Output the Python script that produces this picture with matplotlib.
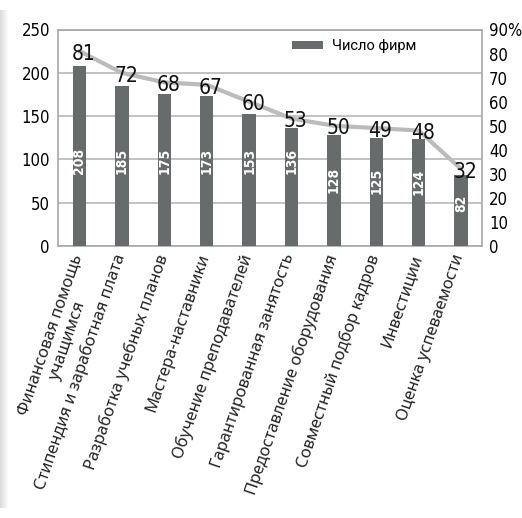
import matplotlib
matplotlib.use("Agg")
import matplotlib.pyplot as plt
from matplotlib.patches import Rectangle
from matplotlib.transforms import ScaledTranslation
import numpy as np

categories = [
    "Финансовая помощь\nучащимся",
    "Стипендия и заработная плата",
    "Разработка учебных планов",
    "Мастера-наставники",
    "Обучение преподавателей",
    "Гарантированная занятость",
    "Предоставление оборудования",
    "Совместный подбор кадров",
    "Инвестиции",
    "Оценка успеваемости",
]
firms = [208, 185, 175, 173, 153, 136, 128, 125, 124, 82]
percent = [81, 72, 68, 67, 60, 53, 50, 49, 48, 32]
left_ticks = [0, 50, 100, 150, 200, 250]
right_ticks = [0, 10, 20, 30, 40, 50, 60, 70, 80, 90]
right_labels = ["0", "10", "20", "30", "40", "50", "60", "70", "80", "90%"]
legend_label = "Число фирм"

BAR = "#686b6b"
LINE = "#bbbbbb"
FRAME = "#a8a8a8"
GRID = "#b8b8b8"
NUM_FONT = ["DejaVu Sans"]
LBL_FONT = ["Noto Sans", "DejaVu Sans"]

W, H = 522, 518
fig = plt.figure(figsize=(W / 100, H / 100), dpi=100)

# left page shadow strip
for i in range(8):
    g = 0.86 + i * 0.017
    fig.patches.append(Rectangle((i / W, 10 / H), 1 / W, (H - 20) / H,
                                 transform=fig.transFigure, color=(g, g, g),
                                 lw=0, zorder=0))

ax = fig.add_axes([58.3 / W, (H - 246) / H, 424 / W, 216.5 / H])
x = np.arange(len(categories))
bars = ax.bar(x, firms, width=0.315, color=BAR, zorder=3, label=legend_label)
ax.set_xlim(-0.5, len(categories) - 0.5)
ax.set_ylim(0, 250)
ax.set_yticks(left_ticks)
ax.set_yticklabels([str(t) for t in left_ticks], fontsize=12,
                   fontfamily=NUM_FONT, fontstretch="condensed")
ax.tick_params(axis="y", length=0, pad=6)
ax.grid(axis="y", color=GRID, lw=1.2, zorder=1)
ax.set_axisbelow(True)
for s in ax.spines.values():
    s.set_color(FRAME)
    s.set_linewidth(1.2)

# category labels (rotated, anchored at their upper-right corner)
ax.set_xticks(x)
ax.set_xticklabels([])
ax.tick_params(axis="x", length=0)
offset = ScaledTranslation(-9 / 100, -6 / 100, fig.dpi_scale_trans)
for xi, name in zip(x, categories):
    ax.text(xi, 0, name, rotation=71, ha="right", va="top",
            rotation_mode="anchor", fontsize=11.9, fontfamily=LBL_FONT,
            multialignment="center", color="#222222",
            transform=ax.get_xaxis_transform() + offset)

# bar value labels
for xi, v in zip(x, firms):
    yl = 98 if v > 130 else v * 0.6
    ax.text(xi, yl, str(v), rotation=90, ha="center", va="center",
            color="white", fontsize=10, fontweight="bold",
            fontfamily=NUM_FONT, fontstretch="condensed", zorder=5)

ax2 = ax.twinx()
ax2.set_ylim(0, 90)
ax2.plot(x, percent, color=LINE, lw=3, zorder=4, solid_capstyle="round")
ax2.set_yticks(right_ticks)
ax2.set_yticklabels(right_labels, fontsize=12, fontfamily=NUM_FONT,
                    fontstretch="condensed")
ax2.tick_params(axis="y", length=0, pad=5)
for s in ax2.spines.values():
    s.set_visible(False)
for xi, p in zip(x, percent):
    ax2.annotate(str(p), (xi, p), xytext=(3, -2), textcoords="offset points",
                 ha="center", va="center", fontsize=15, fontfamily=NUM_FONT,
                 fontstretch="condensed", color="#111111", zorder=6)

leg = ax2.legend(handles=[bars], loc="upper left", bbox_to_anchor=(0.552, 0.955),
                 frameon=False, borderpad=0, borderaxespad=0,
                 handlelength=2.1, handleheight=0.42, handletextpad=0.6,
                 prop={"family": ["Roboto", "DejaVu Sans"], "size": 10.5})
leg.set_zorder(10)

fig.savefig("out.png", dpi=100)
